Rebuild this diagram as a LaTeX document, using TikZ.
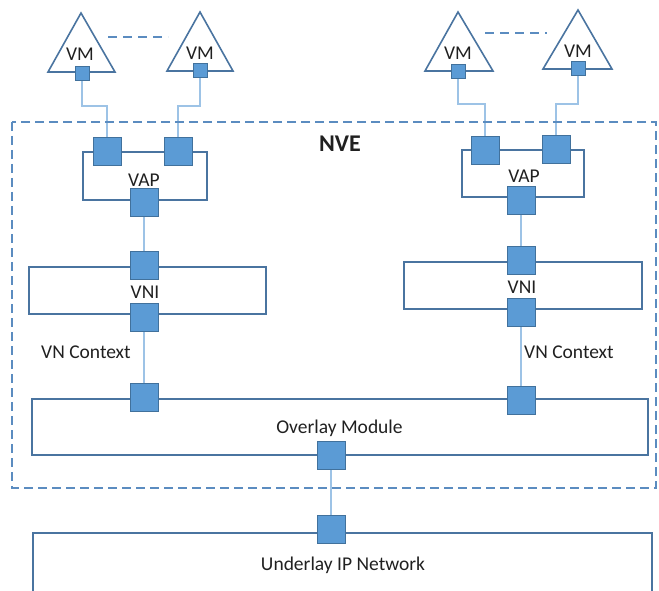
\documentclass[tikz,border=0pt]{standalone}
\usepackage{fontspec}
\setmainfont{Carlito}
\usetikzlibrary{backgrounds}
\definecolor{boxline}{HTML}{4A74A0}
\definecolor{portfill}{HTML}{5B9BD5}
\definecolor{portline}{HTML}{41719C}
\definecolor{connline}{HTML}{9DC3E6}
\definecolor{dashline}{HTML}{5B8CC0}
\definecolor{txt}{HTML}{202020}
\tikzset{
  box/.style={draw=boxline, line width=1.6pt, inner sep=0pt, text=txt},
  port/.style={draw=portline, fill=portfill, line width=0.8pt, minimum size=28pt, inner sep=0pt},
  vmport/.style={draw=portline, fill=portfill, line width=0.8pt, minimum size=14pt, inner sep=0pt},
  vmtri/.style={draw=boxline, line width=1.6pt, line join=miter},
  conn/.style={draw=connline, line width=1.8pt},
  peer/.style={draw=dashline, line width=1.8pt, dash pattern=on 9pt off 6pt},
  nve/.style={draw=dashline, line width=1.4pt, dash pattern=on 9pt off 5pt},
  lbl/.style={text=txt, font=\fontsize{19.5}{23}\selectfont, inner sep=0pt},
}
\begin{document}
\begin{tikzpicture}[x=1pt, y=-1pt, font=\fontsize{19.5}{23}\selectfont]
\useasboundingbox (0,0) rectangle (659,591);
\clip (0,0) rectangle (659,591);

% NVE dashed region
\draw[nve] (12,122) rectangle (656,488);
\node[lbl, font=\fontsize{24}{27}\selectfont\bfseries] (nvelbl) at (340,144) {NVE};

% VM triangles
\draw[vmtri] (81,13) -- (115,72) -- (48,72) -- cycle;
\draw[vmtri] (200,12) -- (233,71) -- (167,71) -- cycle;
\draw[vmtri] (458,12) -- (493,71) -- (425,71) -- cycle;
\draw[vmtri] (578,10) -- (612,69) -- (543,69) -- cycle;
\node[lbl] (vm1) at (80,54) {VM};
\node[lbl] (vm2) at (200,53) {VM};
\node[lbl] (vm3) at (458,53) {VM};
\node[lbl] (vm4) at (578,51) {VM};

% dashed peer lines
\coordinate (d1a) at (108,37); \coordinate (d1b) at (168,37);
\coordinate (d2a) at (485,33); \coordinate (d2b) at (547,33);
\draw[peer] (d1a) -- (d1b);
\draw[peer] (d2a) -- (d2b);

% VM ports
\node[vmport] (s1) at (82,73) {};
\node[vmport] (s2) at (200,70) {};
\node[vmport] (s3) at (458,71) {};
\node[vmport] (s4) at (578,68) {};

% VAP boxes
\node[box, minimum width=124pt, minimum height=48pt] (vapL) at (145,176) {};
\node[lbl] (vapLt) at (144,180) {VAP};
\node[box, minimum width=122pt, minimum height=47pt] (vapR) at (523,173.5) {};
\node[lbl] (vapRt) at (524,176) {VAP};

% VNI boxes
\node[box, minimum width=237pt, minimum height=47pt] (vniL) at (147.5,290.5) {};
\node[lbl] (vniLt) at (145,292) {VNI};
\node[box, minimum width=238pt, minimum height=47pt] (vniR) at (523,285.5) {};
\node[lbl] (vniRt) at (522,287) {VNI};

% Overlay and underlay
\node[box, minimum width=616pt, minimum height=56pt] (ovl) at (340,427) {};
\node[lbl] (ovlt) at (339.5,428) {Overlay Module};
\node[box, minimum width=619pt, minimum height=80pt] (udl) at (342.5,573) {};
\node[lbl] (udlt) at (343,565) {Underlay IP Network};

% VN context labels
\node[lbl] (vncL) at (86,352) {VN Context};
\node[lbl] (vncR) at (569,352) {VN Context};

% ports
\node[port] (p1) at (107,151) {};
\node[port] (p2) at (178,151) {};
\node[port] (pb) at (144,202) {};
\node[port] (q1) at (485,150) {};
\node[port] (q2) at (556,149) {};
\node[port] (qb) at (521,200) {};
\node[port] (vLt) at (144,265) {};
\node[port] (vLb) at (144,317) {};
\node[port] (vRt) at (521,260) {};
\node[port] (vRb) at (521,312) {};
\node[port] (oL) at (144,397) {};
\node[port] (oR) at (521,400) {};
\node[port] (oB) at (331,455) {};
\node[port] (uT) at (331,529) {};

% connectors
\coordinate (bendL) at (0,106);
\coordinate (bendR) at (0,104);
\begin{pgfonlayer}{background}
\draw[conn] (s1.south) |- (p1 |- bendL) -- (p1.north);
\draw[conn] (s2.south) |- (p2 |- bendL) -- (p2.north);
\draw[conn] (s3.south) |- (q1 |- bendR) -- (q1.north);
\draw[conn] (s4.south) |- (q2 |- bendR) -- (q2.north);
\draw[conn] (pb.south) -- (vLt.north);
\draw[conn] (qb.south) -- (vRt.north);
\draw[conn] (vLb.south) -- (oL.north);
\draw[conn] (vRb.south) -- (oR.north);
\draw[conn] (oB.south) -- (uT.north);
\end{pgfonlayer}
\end{tikzpicture}
\end{document}
